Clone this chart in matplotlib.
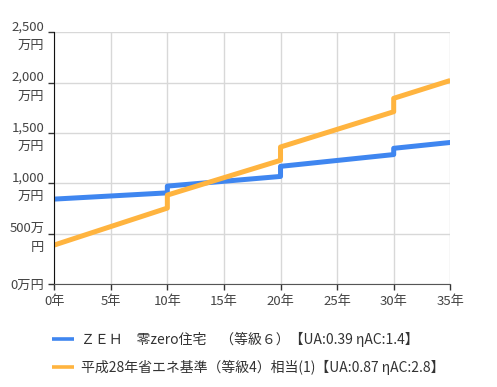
import matplotlib.pyplot as plt
from matplotlib.ticker import FixedLocator

plt.rcParams['font.family'] = ['Noto Sans CJK JP', 'DejaVu Sans']

# step lines: the jump years appear twice (before / after)
years = [0, 10, 10, 20, 20, 30, 30, 35]
zeh = [843, 905, 972, 1068, 1168, 1285, 1347, 1405]
h28 = [387, 754, 883, 1228, 1360, 1710, 1843, 2020]

labels = ['ＺＥＨ　零zero住宅　（等級６）【UA:0.39 ηAC:1.4】',
          '平成28年省エネ基準（等級4）相当(1)【UA:0.87 ηAC:2.8】']
colors = ['#3f86f0', '#ffb43f']

xticks = [0, 5, 10, 15, 20, 25, 30, 35]
xlabels = ['0年', '5年', '10年', '15年', '20年', '25年', '30年', '35年']
yticks = [0, 500, 1000, 1500, 2000, 2500]
ylabels = ['0万円', '500万\n円', '1,000\n万円', '1,500\n万円', '2,000\n万円', '2,500\n万円']

fig = plt.figure(figsize=(4.97, 3.87), dpi=100)
ax = fig.add_axes([0.109, 0.266, 0.797, 0.651])

ax.plot(years, zeh, color=colors[0], lw=3.6, label=labels[0], solid_capstyle='butt')
ax.plot(years, h28, color=colors[1], lw=3.6, label=labels[1], solid_capstyle='butt')

ax.set_xlim(0, 35)
ax.set_ylim(0, 2500)
ax.xaxis.set_major_locator(FixedLocator(xticks))
ax.set_xticklabels(xlabels)
ax.yaxis.set_major_locator(FixedLocator(yticks))
ax.set_yticklabels(ylabels, linespacing=1.55)
ax.tick_params(axis='both', labelsize=9.5, labelcolor='#444444', length=4, width=1, color='#333333')
ax.tick_params(axis='x', pad=4)
ax.tick_params(axis='y', pad=3)

ax.grid(True, color='#d8d8d8', lw=1)
ax.set_axisbelow(True)
for s in ['top', 'right']:
    ax.spines[s].set_visible(False)
ax.spines['left'].set_color('#111111')
ax.spines['bottom'].set_color('#555555')

leg = fig.legend(loc='upper left', bbox_to_anchor=(0.08, 0.175), frameon=False,
                 fontsize=10, handlelength=1.6, handletextpad=0.5, labelspacing=0.95,
                 labelcolor='#333333')
for h in leg.get_lines():
    h.set_linewidth(2.6)

plt.savefig('out.png', dpi=100)
